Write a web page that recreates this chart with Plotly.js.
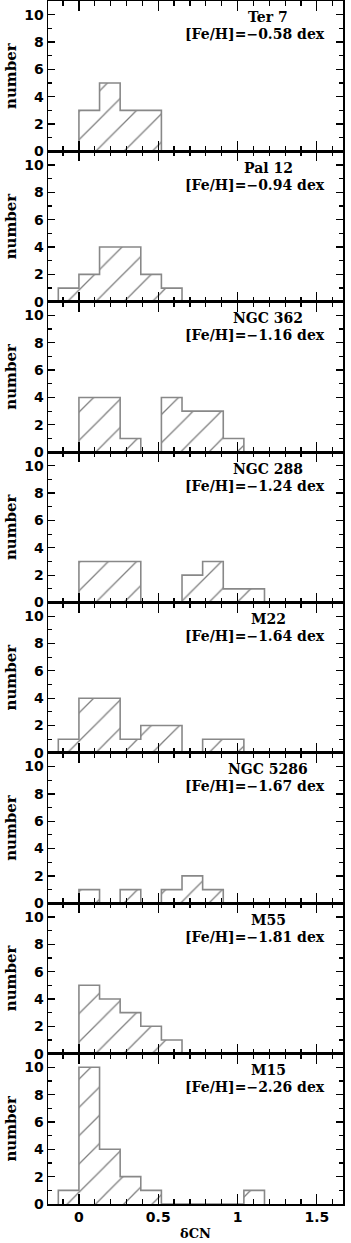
<!DOCTYPE html>
<html>
<head>
<meta charset="utf-8">
<script src="https://cdn.plot.ly/plotly-3.0.1.min.js"></script>
<style>
  html, body { margin: 0; padding: 0; background: #fff; }
  #chart { width: 351px; height: 1243px; }
</style>
</head>
<body>
<div id="chart"></div>
<script>
// bin edges of the deltaCN histograms (width 0.13)
const binEdges = [-0.13, 0, 0.13, 0.26, 0.39, 0.52, 0.65, 0.78, 0.91, 1.04, 1.17];

const clusters = ["Ter 7", "Pal 12", "NGC 362", "NGC 288", "M22", "NGC 5286", "M55", "M15"];
const metallicity = ["\u22120.58", "\u22120.94", "\u22121.16", "\u22121.24", "\u22121.64", "\u22121.67", "\u22121.81", "\u22122.26"];

// counts per bin, one array per cluster
const ter7    = [0, 3, 5, 3, 3, 0, 0, 0, 0, 0];
const pal12   = [1, 2, 4, 4, 2, 1, 0, 0, 0, 0];
const ngc362  = [0, 4, 4, 1, 0, 4, 3, 3, 1, 0];
const ngc288  = [0, 3, 3, 3, 0, 0, 2, 3, 1, 1];
const m22     = [1, 4, 4, 1, 2, 2, 0, 1, 1, 0];
const ngc5286 = [0, 1, 0, 1, 0, 1, 2, 1, 0, 0];
const m55     = [0, 5, 4, 3, 2, 1, 0, 0, 0, 0];
const m15     = [1, 10, 4, 2, 1, 0, 0, 0, 0, 1];

const counts = [ter7, pal12, ngc362, ngc288, m22, ngc5286, m55, m15];

const gray = "#888888";
const nPanels = counts.length;
const binWidth = binEdges[1] - binEdges[0];
const centers = binEdges.slice(0, -1).map((e) => e + binWidth / 2);

const traces = [];
const annotations = [];
const layout = {
  width: 351,
  height: 1243,
  margin: { l: 48, r: 8, t: 1, b: 39 },
  paper_bgcolor: "#fff",
  plot_bgcolor: "#fff",
  showlegend: false,
  bargap: 0,
  font: { family: "DejaVu Sans", size: 13, color: "#000", weight: "bold" },
};

counts.forEach((c, i) => {
  const n = i + 1;
  const xa = n === 1 ? "x" : "x" + n;
  const ya = n === 1 ? "y" : "y" + n;
  const xKey = n === 1 ? "xaxis" : "xaxis" + n;
  const yKey = n === 1 ? "yaxis" : "yaxis" + n;
  const isBottom = i === nPanels - 1;

  // hatched bars
  traces.push({
    type: "bar",
    x: centers,
    y: c,
    width: binWidth,
    xaxis: xa,
    yaxis: ya,
    marker: {
      color: "rgba(255,255,255,0)",
      line: { width: 0 },
      pattern: {
        shape: "/",
        fgcolor: "#808080",
        fgopacity: 1,
        bgcolor: "rgba(255,255,255,0)",
        fillmode: "overlay",
        size: 20,
        solidity: 0.065,
      },
    },
    hoverinfo: "skip",
  });

  // step outline of the histogram
  const sx = [binEdges[0], ...binEdges.slice(0, -1), binEdges[binEdges.length - 1]];
  const sy = [0, ...c, 0];
  traces.push({
    type: "scatter",
    mode: "lines",
    x: sx,
    y: sy,
    xaxis: xa,
    yaxis: ya,
    line: { shape: "hv", color: gray, width: 1.6 },
    hoverinfo: "skip",
  });

  const top = 1 - i / nPanels;
  const bottom = 1 - (i + 1) / nPanels;

  layout[xKey] = {
    domain: [0, 1],
    anchor: ya,
    range: [-0.195, 1.665],
    matches: n === 1 ? undefined : "x",
    showline: true,
    linecolor: "#000",
    linewidth: 1.5,
    mirror: "allticks",
    ticks: "inside",
    ticklen: 10,
    tickwidth: 1.3,
    tickcolor: "#000",
    tickvals: [0, 0.5, 1, 1.5],
    ticktext: ["0", "0.5", "1", "1.5"],
    minor: { dtick: 0.1, tick0: 0, ticks: "inside", ticklen: 5, tickwidth: 1.2, tickcolor: "#000" },
    showgrid: false,
    zeroline: false,
    showticklabels: isBottom,
    tickfont: { size: 14, family: "DejaVu Sans", weight: "bold" },
    title: isBottom ? { text: "\u03b4CN", font: { size: 13, family: "DejaVu Serif" }, standoff: 4 } : undefined,
  };

  layout[yKey] = {
    domain: [bottom, top],
    anchor: xa,
    range: [0, 11],
    showline: true,
    linecolor: "#000",
    linewidth: 1.5,
    mirror: "allticks",
    ticks: "inside",
    ticklen: 7,
    tickwidth: 1.3,
    tickcolor: "#000",
    dtick: 2,
    tick0: 0,
    minor: { dtick: 1, ticks: "inside", ticklen: 4, tickwidth: 1.2, tickcolor: "#000" },
    showgrid: false,
    zeroline: false,
    tickfont: { size: 14, family: "DejaVu Sans", weight: "bold" },
    title: { text: "number", font: { size: 15, family: "DejaVu Serif", weight: "bold" }, standoff: 4 },
  };

  annotations.push({
    xref: xa,
    yref: ya,
    x: 1.195,
    y: 9.8,
    xanchor: "center",
    yanchor: "middle",
    showarrow: false,
    text: clusters[i],
    font: { size: 14, family: "DejaVu Serif", weight: "bold" },
  });
  annotations.push({
    xref: xa,
    yref: ya,
    x: 1.566,
    y: 8.55,
    xanchor: "right",
    yanchor: "middle",
    showarrow: false,
    text: "[Fe/H]=" + metallicity[i] + " dex",
    font: { size: 14, family: "DejaVu Serif", weight: "bold" },
  });
});

layout.annotations = annotations;

Plotly.newPlot("chart", traces, layout, { staticPlot: true });
</script>
</body>
</html>
